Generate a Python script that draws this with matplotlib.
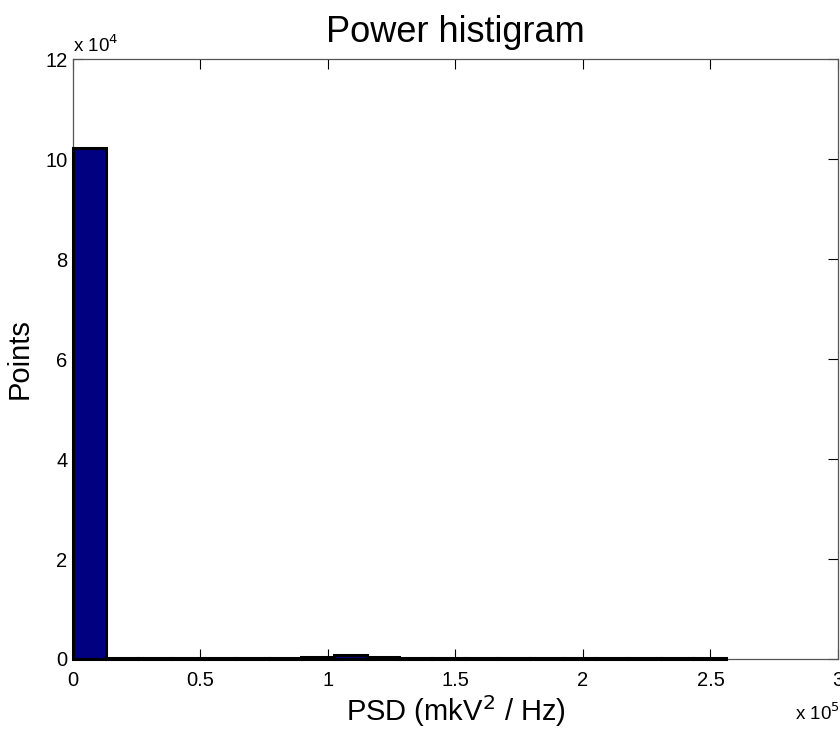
import matplotlib
matplotlib.use("Agg")
import matplotlib.pyplot as plt
from matplotlib.ticker import FuncFormatter

plt.rcParams['font.family'] = ['Liberation Sans', 'DejaVu Sans']

# histogram data (bin edges in mkV^2/Hz, counts)
bin_width = 12800
bin_left = [i * bin_width for i in range(20)]
counts = [102200, 250, 150, 150, 150, 150, 150, 450, 800, 350,
          200, 150, 150, 150, 150, 150, 150, 150, 150, 150]

x_ticks = [0, 0.5e5, 1e5, 1.5e5, 2e5, 2.5e5, 3e5]
y_ticks = [0, 2e4, 4e4, 6e4, 8e4, 10e4, 12e4]

fig = plt.figure(figsize=(8.4, 7.31), dpi=100)
ax = fig.add_axes([0.0869, 0.0985, 0.9107, 0.8207])

ax.bar(bin_left, counts, width=bin_width, align='edge',
       color='#000080', edgecolor='black', linewidth=2.2, zorder=3,
       clip_on=False)

ax.set_xlim(0, 3e5)
ax.set_ylim(0, 12e4)
ax.set_xticks(x_ticks)
ax.set_yticks(y_ticks)
ax.xaxis.set_major_formatter(FuncFormatter(lambda v, p: ('%g' % (v / 1e5))))
ax.yaxis.set_major_formatter(FuncFormatter(lambda v, p: ('%g' % (v / 1e4))))
ax.tick_params(direction='in', length=7, labelsize=14.5, colors='black',
               top=True, right=True)
ax.tick_params(axis='x', pad=9)
ax.tick_params(axis='y', pad=4)
for s in ax.spines.values():
    s.set_color('#555555')
    s.set_linewidth(0.9)

ax.set_title('Power histigram', fontsize=26, pad=12)
ax.set_xlabel('PSD (mkV$^2$ / Hz)', fontsize=21, labelpad=2)
ax.set_ylabel('Points', fontsize=21, labelpad=8)

fig.text(0.0869, 0.929, 'x 10$^4$', fontsize=13.5, ha='left', va='baseline')
fig.text(0.9995, 0.015, 'x 10$^5$', fontsize=13.5, ha='right', va='baseline')

fig.savefig('out.png', dpi=100)
